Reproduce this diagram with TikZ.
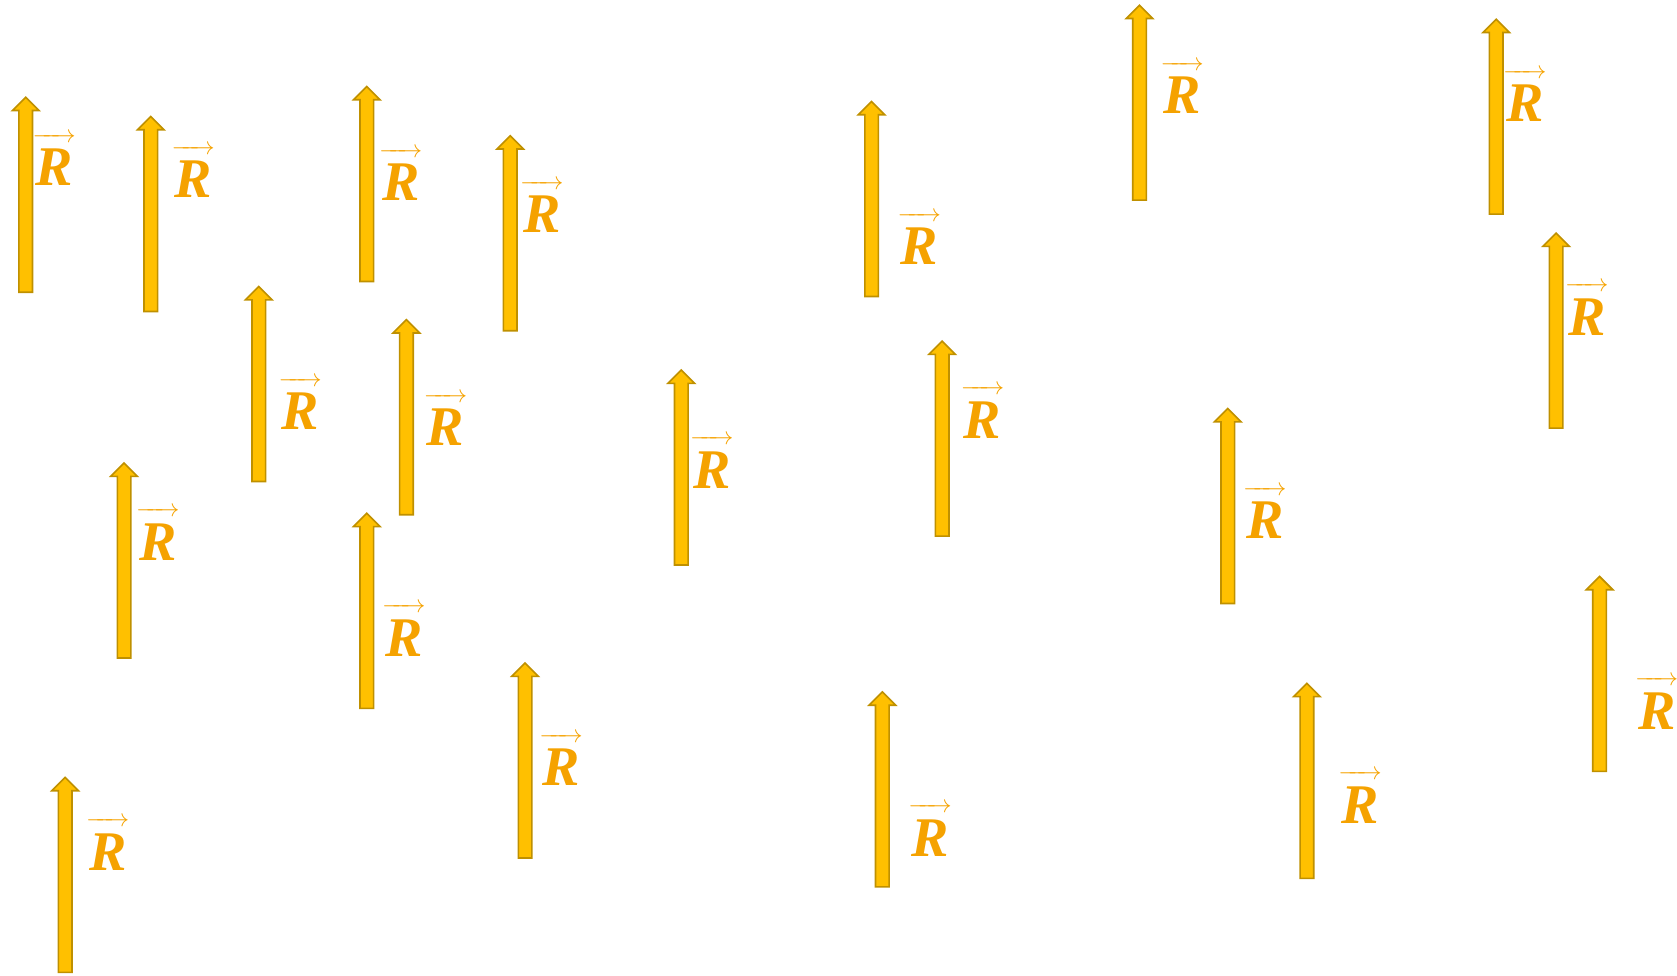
\documentclass[tikz,border=0pt]{standalone}
\usepackage{amsmath}
\usepackage{fontspec}
\setmainfont{Liberation Serif}
\usepackage{tikz}
\usetikzlibrary{shapes.arrows}
\definecolor{arrowfill}{RGB}{255,192,0}
\definecolor{arrowedge}{RGB}{191,144,0}
\definecolor{vecorange}{RGB}{245,162,0}
\newcommand{\vecR}{$\overrightarrow{\mbox{\kern3pt R\kern3pt\rule{0pt}{0.78em}}}$}

\begin{document}
\begin{tikzpicture}[x=1pt, y=-1pt,
    vecarrow/.style={single arrow, draw=arrowedge, fill=arrowfill, line width=1.6pt, inner sep=0pt, inner ysep=6pt, minimum height=195pt, single arrow head extend=6.5pt, rotate=90, anchor=tail},
    rlbl/.style={text=vecorange, font=\fontsize{56}{60}\selectfont\bfseries\itshape, inner sep=0pt, anchor=base west, xshift=-3pt, yshift=-2pt}
]
\useasboundingbox (0,0) rectangle (1677,976);

% row of vectors, top
\node[vecarrow] (a1) at (25.7,293) {};
\node[rlbl] (r1) at (35.3,184) {\vecR};
\node[vecarrow] (a2) at (150.8,312.3) {};
\node[rlbl] (r2) at (174.3,195.7) {\vecR};
\node[vecarrow] (a3) at (366.8,282.3) {};
\node[rlbl] (r3) at (381.8,198.9) {\vecR};
\node[vecarrow] (a4) at (510.2,331.5) {};
\node[rlbl] (r4) at (523,231) {\vecR};
\node[vecarrow] (a5) at (871.6,297.3) {};
\node[rlbl] (r5) at (900.5,263) {\vecR};
\node[vecarrow] (a6) at (1139.5,201) {};
\node[rlbl] (r6) at (1163.3,112) {\vecR};
\node[vecarrow] (a7) at (1496.2,215) {};
\node[rlbl] (r7) at (1505.9,119.7) {\vecR};

% middle
\node[vecarrow] (a8) at (258.8,482.3) {};
\node[rlbl] (r8) at (281.3,427.7) {\vecR};
\node[vecarrow] (a9) at (406.4,515.5) {};
\node[rlbl] (r9) at (426.7,443.8) {\vecR};
\node[vecarrow] (a10) at (681.3,565.8) {};
\node[rlbl] (r10) at (693,486.6) {\vecR};
\node[vecarrow] (a11) at (942.2,536.9) {};
\node[rlbl] (r11) at (963.6,436.3) {\vecR};
\node[vecarrow] (a12) at (1556.1,428.9) {};
\node[rlbl] (r12) at (1567.9,333.6) {\vecR};
\node[vecarrow] (a13) at (124.1,658.8) {};
\node[rlbl] (r13) at (139,558.2) {\vecR};
\node[vecarrow] (a14) at (366.8,709.1) {};
\node[rlbl] (r14) at (385,654.5) {\vecR};
\node[vecarrow] (a15) at (1227.8,604.3) {};
\node[rlbl] (r15) at (1246,536.8) {\vecR};
\node[vecarrow] (a16) at (1599.5,772.2) {};
\node[rlbl] (r16) at (1637.8,727.2) {\vecR};

% bottom
\node[vecarrow] (a17) at (525.1,858.8) {};
\node[rlbl] (r17) at (542.2,783.9) {\vecR};
\node[vecarrow] (a18) at (882.3,887.7) {};
\node[rlbl] (r18) at (911.2,854.5) {\vecR};
\node[vecarrow] (a19) at (1306.9,879.1) {};
\node[rlbl] (r19) at (1341.2,821.3) {\vecR};
\node[vecarrow] (a20) at (65.2,973.2) {};
\node[rlbl] (r20) at (88.8,868.4) {\vecR};
\end{tikzpicture}
\end{document}
